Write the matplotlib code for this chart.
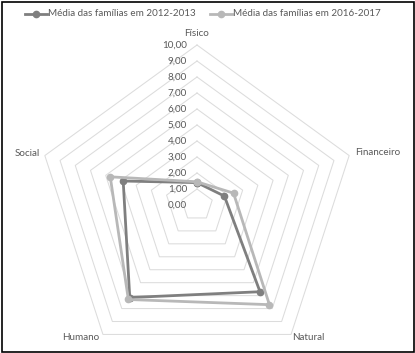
import numpy as np
import matplotlib
matplotlib.use("Agg")
import matplotlib.pyplot as plt
from matplotlib.patches import Rectangle
from matplotlib.lines import Line2D
import matplotlib.transforms as mtrans

categories = ["Físico", "Financeiro", "Natural", "Humano", "Social"]
series_names = ["Média das famílias em 2012-2013", "Média das famílias em 2016-2017"]
values_2012 = [1.40, 1.80, 6.70, 7.15, 4.85]
values_2016 = [1.45, 2.40, 7.70, 7.30, 5.70]
ring_values = [0, 1, 2, 3, 4, 5, 6, 7, 8, 9, 10]
ring_labels = ["0,00", "1,00", "2,00", "3,00", "4,00", "5,00", "6,00", "7,00", "8,00", "9,00", "10,00"]

colors = ["#7f7f7f", "#b8b8b8"]
text_color = "#595959"
plt.rcParams['font.family'] = ['Lato', 'DejaVu Sans']
fs = 7.1

W, H = 415, 353
fig = plt.figure(figsize=(W / 100, H / 100), dpi=100)
cx, cy, R = 197, 205, 160
ax = fig.add_axes([(cx - R) / W, (H - cy - R) / H, 2 * R / W, 2 * R / H], projection='polar')
ax.set_theta_offset(np.pi / 2)
ax.set_theta_direction(-1)
ax.set_ylim(0, 10)
ax.grid(False)
ax.spines['polar'].set_visible(False)
ax.set_xticks([])
ax.set_yticks([])
ax.patch.set_alpha(0)

n = len(categories)
theta = np.linspace(0, 2 * np.pi, n, endpoint=False)
theta_c = np.append(theta, theta[0])

for r in ring_values[1:]:
    ax.plot(theta_c, [r] * (n + 1), color="#dcdcdc", lw=0.75, zorder=1, clip_on=False)

for vals, col, name in zip([values_2012, values_2016], colors, series_names):
    v = list(vals) + [vals[0]]
    ax.plot(theta_c, v, color=col, lw=2, marker='o', ms=4.5, zorder=3, label=name, clip_on=False)

off = mtrans.offset_copy(ax.transData, fig=fig, x=-10, y=0, units='dots')
for r, lab in zip(ring_values, ring_labels):
    ax.text(0, r, lab, transform=off, ha='right', va='center', fontsize=fs, color=text_color)

# category labels
fig.text(197 / W, 1 - 33 / H, categories[0], ha='center', va='center', fontsize=fs, color=text_color)
fig.text(355 / W, 1 - 152 / H, categories[1], ha='left', va='center', fontsize=fs, color=text_color)
fig.text(308 / W, 1 - 337 / H, categories[2], ha='center', va='center', fontsize=fs, color=text_color)
fig.text(81 / W, 1 - 337 / H, categories[3], ha='center', va='center', fontsize=fs, color=text_color)
fig.text(40 / W, 1 - 153 / H, categories[4], ha='right', va='center', fontsize=fs, color=text_color)

# legend drawn manually
ly = 1 - 13.5 / H
for (x0, x1, xt), col, name in zip([(25, 47, 48), (210, 232, 233)], colors, series_names):
    fig.add_artist(Line2D([x0 / W, x1 / W], [ly, ly], color=col, lw=2, transform=fig.transFigure))
    fig.add_artist(Line2D([(x0 + x1) / 2 / W], [ly], color=col, marker='o', ms=4.5, lw=0,
                          transform=fig.transFigure))
    fig.text(xt / W, ly, name, ha='left', va='center', fontsize=fs, color=text_color)

fig.patches.append(Rectangle((1.5 / W, 1.5 / H), (W - 3) / W, (H - 3) / H, transform=fig.transFigure,
                             fill=False, edgecolor='black', lw=1.2))

fig.savefig("out.png", dpi=100, facecolor='white')
